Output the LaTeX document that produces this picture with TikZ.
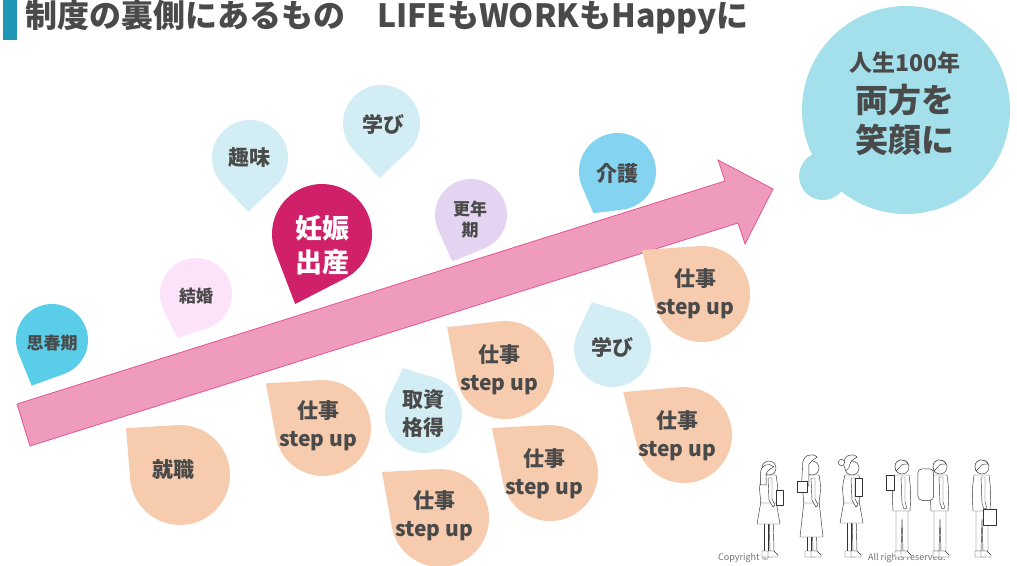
\documentclass[tikz,border=0pt]{standalone}
\usepackage{fontspec}
\setmainfont{Noto Sans CJK JP}

\definecolor{ink}{HTML}{4A4A4A}
\definecolor{barblue}{HTML}{1E96B4}
\definecolor{arrowfill}{HTML}{EF9BBE}
\definecolor{arrowline}{HTML}{E25592}
\definecolor{teen}{HTML}{5ACDE8}
\definecolor{wed}{HTML}{FCE3FA}
\definecolor{pale}{HTML}{D2EEF4}
\definecolor{birth}{HTML}{D0206A}
\definecolor{meno}{HTML}{E4D3F1}
\definecolor{care}{HTML}{84D3F0}
\definecolor{job}{HTML}{F7CBAE}
\definecolor{goal}{HTML}{A3E0EB}

% drop: centre, radius, tip angle, tip distance (radii), colour
\newcommand{\tear}[5]{%
  \fill[#5, shift={(#1)}] (#3:{#2*#4}) -- ({#3+acos(1/#4)}:#2)
    arc[start angle={#3+acos(1/#4)}, delta angle={360-2*acos(1/#4)}, radius=#2] -- cycle;}

\tikzset{
  lbl/.style={text=ink, inner sep=0pt, align=center, font=\bfseries\fontsize{21}{28}\selectfont},
  lblsm/.style={lbl, font=\bfseries\fontsize{17}{21}\selectfont},
  lblbig/.style={lbl, text=white, font=\bfseries\fontsize{27}{34}\selectfont},
  lifearrow/.style={fill=arrowfill, draw=arrowline, line width=0.8pt, line join=miter},
  fig/.style={draw=black!80, line width=0.45pt, fill=white, line join=round},
  lady/.pic={% #1 = hem height
    \draw[fig] (-5,-42) -- (-5,-6) -- (-1,-6) -- (-1,-42);
    \draw[fig] (0,-42) -- (1,-6) -- (5,-6) -- (4,-42);
    \draw[fig] (-7,-6) -- (-1,-6) -- (3,-2) -- (3,0) -- (-7,0) -- cycle;
    \draw[fig] (-1,-6) -- (5,-6) -- (9,-2) -- (9,0) -- (-1,0) -- cycle;
    \draw[fig] (-8,-56) -- (-12,-#1) -- (11,-#1) -- (7,-56) -- cycle;
    \draw[fig] (-7,-82) .. controls (-10,-70) .. (-8,-54) -- (7,-54) .. controls (9,-70) .. (7,-82) -- cycle;
    \draw[fig] (-1,-79) -- (0,-57) -- (4,-50) -- (6,-52) -- (3,-58) -- (3,-79) -- cycle;
    \draw[fig] (0,-89) circle (7);
  },
  man/.pic={
    \draw[fig] (-6,-50) -- (-6,-6) -- (-1,-6) -- (0,-38) -- (1,-6) -- (6,-6) -- (6,-50) -- cycle;
    \draw[fig] (-7,-6) -- (-1,-6) -- (3,-2) -- (3,0) -- (-7,0) -- cycle;
    \draw[fig] (-1,-6) -- (5,-6) -- (9,-2) -- (9,0) -- (-1,0) -- cycle;
    \draw[fig] (-8,-82) .. controls (-10,-66) .. (-9,-46) -- (8,-46) .. controls (9,-66) .. (7,-82) -- cycle;
    \draw[fig] (-1,-80) -- (0,-54) -- (2,-48) -- (5,-49) -- (3,-55) -- (3,-80) -- cycle;
    \draw[fig] (0,-90) circle (7);
    \draw[fig] (6,-93) .. controls (3,-99) and (-7,-99) .. (-7,-90) -- (-6,-86) -- (-3,-89) .. controls (0,-93) .. (6,-93) -- cycle;
  },
}

\begin{document}
\begin{tikzpicture}[x=1pt, y=-1pt]
\useasboundingbox (0,0) rectangle (1017,565);

% title
\fill[barblue] (3,0) rectangle (17,40);
\node[text=ink, anchor=west, inner sep=0pt, font=\bfseries\fontsize{32}{36}\selectfont] (title) at (25,17) {制度の裏側にあるもの　LIFEもWORKもHappyに};

% the arrow of life
\draw[lifearrow] (17,404) -- (725,181) -- (718,160) -- (773,189) -- (745,244) -- (738,223) -- (30,446) -- cycle;

% life events
\tear{52,340}{36}{114}{1.39}{teen}
\tear{196,294}{36}{113}{1.33}{wed}
\tear{250,158}{38}{92}{1.42}{pale}
\tear{381.5,123.5}{38.5}{92}{1.42}{pale}
\tear{322,234}{50}{111}{1.5}{birth}
\tear{471,215}{36}{112}{1.39}{meno}
\tear{617.5,171.5}{38.5}{120}{1.25}{care}

\node[lblsm] (teen) at (52,343) {思春期};
\node[lblsm] (wed) at (196,296) {結婚};
\node[lbl] (hobby) at (249,158) {趣味};
\node[lbl] (study) at (383,124) {学び};
\node[lblbig] (birth) at (322,245) {妊娠\\出産};
\node[lblsm] (meno) at (470,220) {更年\\期};
\node[lbl] (care) at (617,173) {介護};

% work side
\tear{180,475}{50}{221}{1.43}{job}
\tear{323,428}{48}{218}{1.51}{job}
\tear{423.5,414.5}{38.5}{246}{1.32}{pale}
\tear{505,370}{49}{216.5}{1.47}{job}
\tear{440,518}{49}{218.4}{1.51}{job}
\tear{550,473}{48}{217.8}{1.53}{job}
\tear{612.5,348.5}{38.5}{246}{1.32}{pale}
\tear{702,294}{48}{216.3}{1.55}{job}
\tear{684,435}{48}{215.2}{1.55}{job}

\node[lbl] (job) at (173,470) {就職};
\node[lbl] (work1) at (318,426) {仕事\\step up};
\node[lbl] (license) at (423,414) {取資\\格得};
\node[lbl] (work2) at (499,370) {仕事\\step up};
\node[lbl] (work3) at (434,516) {仕事\\step up};
\node[lbl] (work4) at (544,474) {仕事\\step up};
\node[lbl] (study2) at (612,347) {学び};
\node[lbl] (work5) at (695,294) {仕事\\step up};
\node[lbl] (work6) at (677,436) {仕事\\step up};

% goal bubble
\fill[goal] (906,110) circle (104);
\fill[goal] (823,176) circle (24);
\node[lbl, font=\bfseries\fontsize{23}{28}\selectfont] (goal1) at (905,63) {人生100年};
\node[lbl, font=\bfseries\fontsize{33}{40}\selectfont] (goal2) at (905,100) {両方を};
\node[lbl, font=\bfseries\fontsize{33}{40}\selectfont] (goal3) at (905,140) {笑顔に};

% people in line
\node[text=black!55, inner sep=0pt, anchor=west, font=\fontsize{9}{10}\selectfont] (credit) at (718,558) {Copyright ©\hspace{11em}All rights reserved.};
\begin{scope}[shift={(769,557)}, scale=0.95]
  \pic {lady=33};
  \draw[fig] (5,-95) .. controls (0,-100) and (-9,-97) .. (-9,-88) -- (-9,-76) -- (-3,-76) -- (-3,-88) .. controls (0,-92) .. (5,-95) -- cycle;
  \draw[fig] (8,-70) rectangle (15,-55);
\end{scope}
\begin{scope}[shift={(812,557)}, scale=1.05]
  \pic {lady=20};
  \draw[fig] (5,-95) .. controls (0,-100) and (-9,-97) .. (-9,-88) -- (-10,-66) -- (-3,-68) -- (-3,-88) .. controls (0,-92) .. (5,-95) -- cycle;
  \draw[fig] (-14,-72) rectangle (-5,-62);
\end{scope}
\begin{scope}[shift={(852,557)}, scale=1.05]
  \pic {lady=34};
  \draw[fig] (5,-95) .. controls (0,-100) and (-8,-97) .. (-8,-88) -- (-6,-82) -- (-3,-85) .. controls (-1,-92) .. (5,-95) -- cycle;
  \draw[fig] (-10,-90) circle (3);
  \draw[fig] (3,-75) rectangle (10,-58);
\end{scope}
\begin{scope}[shift={(902,557)}, scale=1.05]
  \pic {man};
  \draw[fig] (-15,-78) rectangle (-7,-64);
\end{scope}
\begin{scope}[shift={(940,557)}, scale=1.05]
  \pic {man};
  \draw[fig, rounded corners=4pt] (-21,-84) rectangle (-6,-54);
\end{scope}
\begin{scope}[shift={(982,557)}, scale=1.07]
  \pic {man};
  \draw[fig] (1,-45) rectangle (13,-30);
\end{scope}
\end{tikzpicture}
\end{document}
